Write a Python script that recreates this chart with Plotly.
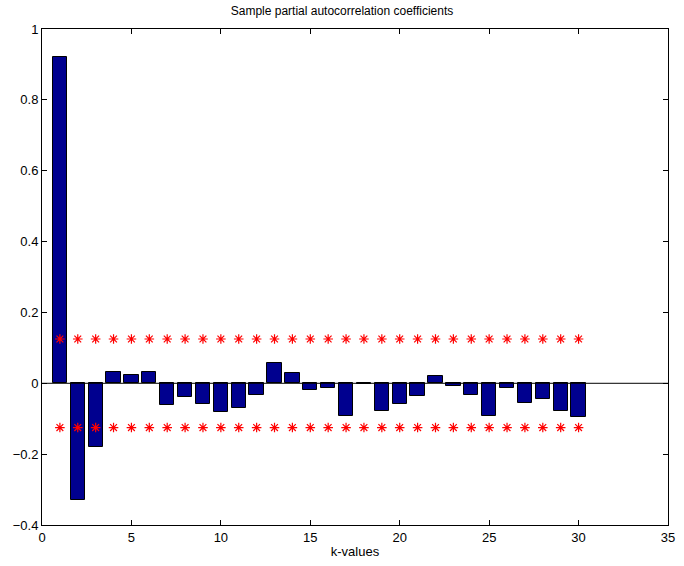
import plotly.graph_objects as go

lags = list(range(1, 31))
pacf = [0.92, -0.329, -0.179, 0.033, 0.023, 0.031, -0.060, -0.039, -0.059, -0.080,
        -0.069, -0.032, 0.056, 0.029, -0.019, -0.014, -0.092, -0.003, -0.077, -0.059,
        -0.035, 0.020, -0.008, -0.034, -0.091, -0.012, -0.056, -0.045, -0.078, -0.095]
bound = 0.125
upper = [bound] * len(lags)
lower = [-bound] * len(lags)

xticks = [0, 5, 10, 15, 20, 25, 30, 35]
yticks = [-0.4, -0.2, 0, 0.2, 0.4, 0.6, 0.8, 1]

fig = go.Figure()
fig.add_trace(go.Bar(x=lags, y=pacf, width=0.8,
                     marker=dict(color="#00008F", line=dict(color="black", width=1)),
                     showlegend=False))
fig.add_trace(go.Scatter(x=[0, 35], y=[0, 0], mode="lines",
                         line=dict(color="black", width=1), showlegend=False,
                         hoverinfo="skip"))
for yy in (upper, lower):
    fig.add_trace(go.Scatter(x=lags, y=yy, mode="markers",
                             marker=dict(symbol="asterisk-open", size=8, color="red",
                                         line=dict(color="red", width=1.2)),
                             showlegend=False))

axis_common = dict(showgrid=False, zeroline=False, showline=True, linecolor="black",
                   linewidth=1, mirror="allticks", ticks="inside", ticklen=5,
                   tickcolor="black", tickfont=dict(size=13, color="black"))
fig.update_layout(
    width=684, height=566,
    margin=dict(l=42, r=9, t=29, b=37),
    paper_bgcolor="white", plot_bgcolor="white",
    font=dict(family="Liberation Sans, Arial, sans-serif", size=13, color="black"),
    title=dict(text="Sample partial autocorrelation coefficients", x=0.5, xanchor="center",
               y=0.988, yanchor="top", font=dict(size=12)),
    bargap=0,
)
fig.update_xaxes(range=[0, 35], tickvals=xticks,
                 title=dict(text="k-values", standoff=3, font=dict(size=13)),
                 **axis_common)
fig.update_yaxes(range=[-0.4, 1], tickvals=yticks, **axis_common)

fig.write_html("out.html")
